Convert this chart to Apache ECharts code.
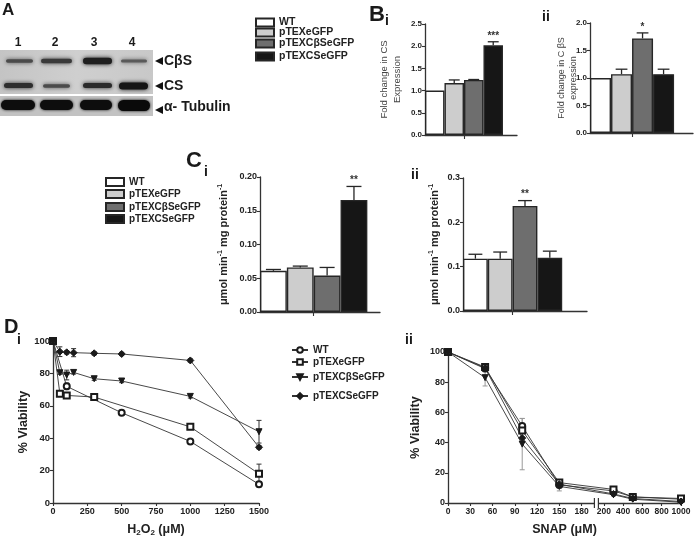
<!DOCTYPE html>
<html><head><meta charset="utf-8">
<script src="https://cdn.jsdelivr.net/npm/echarts@6/dist/echarts.min.js"></script>
<style>html,body{margin:0;padding:0;background:#fff}#c{width:696px;height:538px}</style>
</head><body><div id="c"></div>
<script>
// ---------- data ----------
const groups = ['WT', 'pTEXeGFP', 'pTEXCβSeGFP', 'pTEXCSeGFP'];
const barColors = ['#ffffff', '#cdcdcd', '#6e6e6e', '#161616'];
const barPos = [1, 2, 3, 4];

const biVals = [1.0, 1.17, 1.24, 2.02];
const biErr = [0, 0.07, 0.01, 0.08];
const biSig = ['', '', '', '***'];

const biiVals = [1.0, 1.07, 1.72, 1.07];
const biiErr = [0, 0.09, 0.10, 0.09];
const biiSig = ['', '', '*', ''];

const ciVals = [0.061, 0.066, 0.054, 0.166];
const ciErr = [0.002, 0.002, 0.012, 0.020];
const ciSig = ['', '', '', '**'];

const ciiVals = [0.118, 0.118, 0.237, 0.120];
const ciiErr = [0.010, 0.015, 0.012, 0.015];
const ciiSig = ['', '', '**', ''];

// D i : H2O2
const h2o2X = {
  WT: [0, 100, 500, 1000, 1500],
  eGFP: [0, 50, 100, 300, 1000, 1500],
  CbS: [0, 50, 100, 150, 300, 500, 1000, 1500],
  CS: [0, 50, 100, 150, 300, 500, 1000, 1500]
};
const h2o2Y = {
  WT: [100, 72, 55.7, 38, 11.5],
  eGFP: [100, 67.5, 66.4, 65.4, 47, 18],
  CbS: [100, 80.4, 79, 80.6, 76.7, 75.3, 65.8, 44],
  CS: [100, 93.4, 93, 92.8, 92.4, 92, 88, 34.4]
};
const h2o2E = {
  WT: [0, 2, 1, 1, 1.5],
  eGFP: [0, 1, 1, 1, 1.5, 6],
  CbS: [0, 1, 3, 1, 1, 1, 1, 7],
  CS: [1, 3, 1, 2.5, 1, 1, 1, 1]
};
// D ii : SNAP
const snapX = [0, 50, 100, 150, 300, 500, 1000];
const snapY = {
  WT: [100, 89, 51, 12, 8, 4, 2.5],
  eGFP: [100, 90, 48, 13.5, 9, 4, 3],
  CbS: [100, 83, 39, 11, 5.5, 2.5, 0.5],
  CS: [100, 89.5, 43, 12.5, 6, 3, 1]
};
const snapE = {
  WT: [0, 2, 5, 2, 1, 1, 0.5],
  eGFP: [0, 1, 4, 1, 1, 0.5, 0.5],
  CbS: [0, 5.5, 17, 3, 1, 0.5, 0.5],
  CS: [0, 1, 3, 1, 1, 0.5, 0.5]
};
const snapTicks = [0, 30, 60, 90, 120, 150, 180, 200, 400, 600, 800, 1000];
const seriesKeys = ['WT', 'eGFP', 'CbS', 'CS'];

// ---------- helpers ----------
const FF = 'Liberation Sans, Arial, sans-serif';
const AX = '#333';
// broken SNAP axis: compress the part after the break
const BRK_K = 0.13;
function snapDisp(x) { return x <= 190 ? x : 210 + (x - 200) * BRK_K; }
function snapInv(d) { return d <= 195 ? Math.round(d) : Math.round(200 + (d - 210) / BRK_K); }

const chart = echarts.init(document.getElementById('c'), null, {renderer: 'canvas'});

const grids = [
  {left: 425, top: 24, width: 92, height: 111},   // 0 B i
  {left: 590, top: 23, width: 103, height: 110},  // 1 B ii
  {left: 260, top: 177, width: 120, height: 135}, // 2 C i
  {left: 463, top: 178, width: 124, height: 133}, // 3 C ii
  {left: 53, top: 341, width: 206, height: 162},  // 4 D i
  {left: 448, top: 352, width: 233, height: 151}  // 5 D ii
].map(g => Object.assign({outerBoundsMode: 'none', containLabel: false}, g));

const barPanels = [
  {vals: biVals, err: biErr, sig: biSig, max: 2.5, interval: 0.5, dec: 1, bw: 19.5,
   name: 'Fold change in CS\nExpression', nameGap: 21, xmax: 5.22, fs: 9.5, lh: 13},
  {vals: biiVals, err: biiErr, sig: biiSig, max: 2.0, interval: 0.5, dec: 1, bw: 21,
   name: 'Fold change in C βS\nexpression', nameGap: 11, xmax: 5.4, fs: 9, lh: 11.5, noMove: true},
  {vals: ciVals, err: ciErr, sig: ciSig, max: 0.2, interval: 0.05, dec: 2, bw: 26.8,
   name: 'μmol min{sup|-1} mg protein{sup|-1}', nameGap: 30, xmax: 4.97, rich: true},
  {vals: ciiVals, err: ciiErr, sig: ciiSig, max: 0.3, interval: 0.1, dec: 1, bw: 24.8,
   name: 'μmol min{sup|-1} mg protein{sup|-1}', nameGap: 22, xmax: 5.5, rich: true}
];

const xAxes = [], yAxes = [], series = [];

function axisBase() {
  return {
    axisLine: {show: true, lineStyle: {color: AX, width: 1.3}},
    axisTick: {show: true, length: 3, lineStyle: {color: AX, width: 1.1}},
    splitLine: {show: false},
    axisLabel: {color: '#222', fontFamily: FF, fontWeight: 'bold', fontSize: 8, margin: 3}
  };
}

barPanels.forEach((p, gi) => {
  const xa = axisBase();
  Object.assign(xa, {type: 'value', gridIndex: gi, min: 0.5, max: p.xmax});
  xa.axisLabel = {show: false};
  xa.axisTick = {show: true, length: 4, customValues: [2.5], lineStyle: {color: AX, width: 1.1}};
  xAxes.push(xa);
  const ya = axisBase();
  Object.assign(ya, {type: 'value', gridIndex: gi, min: 0, max: p.max, interval: p.interval,
    name: p.name, nameLocation: 'middle', nameRotate: 90, nameGap: p.nameGap});
  if (p.noMove) ya.nameMoveOverlap = false;
  ya.axisLabel.formatter = v => v.toFixed(p.dec);
  if (p.rich) {
    ya.nameTextStyle = {fontFamily: FF, fontWeight: 'bold', fontSize: 11, color: '#222',
      rich: {sup: {fontFamily: FF, fontWeight: 'bold', fontSize: 7, color: '#222', verticalAlign: 'top', padding: [0, 0, 6, 0]}}};
    ya.axisLabel.fontSize = 9;
  } else {
    ya.nameTextStyle = {fontFamily: FF, fontSize: p.fs, color: '#444', lineHeight: p.lh};
  }
  yAxes.push(ya);
  groups.forEach((g, i) => {
    series.push({
      type: 'bar', name: g, xAxisIndex: gi, yAxisIndex: gi,
      barWidth: p.bw, barGap: '-100%',
      itemStyle: {color: barColors[i], borderColor: '#262626', borderWidth: 1.4},
      data: [[barPos[i], p.vals[i]]]
    });
  });
  // error bars (upper only) + significance stars
  const capHalf = p.bw * 0.28;
  series.push({
    type: 'custom', xAxisIndex: gi, yAxisIndex: gi, z: 5, silent: true,
    data: barPos.map((x, i) => [x, p.vals[i], p.err[i]]),
    renderItem(params, api) {
      const x = api.value(0), v = api.value(1), e = api.value(2);
      const p0 = api.coord([x, v]), p1 = api.coord([x, v + e]);
      const ch = [];
      if (e > 0) {
        ch.push({type: 'line', shape: {x1: p0[0], y1: p0[1], x2: p1[0], y2: p1[1]}, style: {stroke: '#262626', lineWidth: 1.3}});
        ch.push({type: 'line', shape: {x1: p1[0] - capHalf, y1: p1[1], x2: p1[0] + capHalf, y2: p1[1]}, style: {stroke: '#262626', lineWidth: 1.3}});
      }
      const s = p.sig[params.dataIndex];
      if (s) ch.push({type: 'text', x: p1[0], y: p1[1] - 1, style: {text: s, align: 'center', verticalAlign: 'bottom', font: 'bold 10px ' + FF, fill: '#333'}});
      return {type: 'group', children: ch};
    }
  });
});

// ---- D panels ----
const lineSym = {
  WT: {symbol: 'emptyCircle', size: 6},
  eGFP: {symbol: 'emptyRect', size: 6},
  CbS: {symbol: 'path://M0,0L10,0L5,9Z', size: 6},
  CS: {symbol: 'diamond', size: 7}
};

// D i axes
{
  const xa = axisBase();
  Object.assign(xa, {type: 'value', gridIndex: 4, min: 0, max: 1500, interval: 250,
    name: 'H{sub|2}O{sub|2} (μM)', nameLocation: 'middle', nameGap: 20,
    nameTextStyle: {fontFamily: FF, fontWeight: 'bold', fontSize: 12.5, color: '#222',
      rich: {sub: {fontFamily: FF, fontWeight: 'bold', fontSize: 8, color: '#222', verticalAlign: 'bottom', padding: [6, 0, 0, 0]}}}});
  xa.axisLabel.fontSize = 9; xa.axisLabel.margin = 4;
  xa.axisLabel.formatter = v => String(v);
  xAxes.push(xa);
  const ya = axisBase();
  Object.assign(ya, {type: 'value', gridIndex: 4, min: 0, max: 100, interval: 20,
    name: '% Viability', nameLocation: 'middle', nameRotate: 90, nameGap: 18,
    nameTextStyle: {fontFamily: FF, fontWeight: 'bold', fontSize: 12.5, color: '#222'}});
  ya.axisLabel.fontSize = 9.5;
  yAxes.push(ya);
}
// D ii axes
{
  const xa = axisBase();
  const cv = snapTicks.map(snapDisp);
  Object.assign(xa, {type: 'value', gridIndex: 5, min: 0, max: snapDisp(1000),
    name: 'SNAP (μM)', nameLocation: 'middle', nameGap: 20,
    nameTextStyle: {fontFamily: FF, fontWeight: 'bold', fontSize: 12.5, color: '#222'}});
  xa.axisLabel.fontSize = 8.5; xa.axisLabel.margin = 4;
  xa.axisLabel.customValues = cv;
  xa.axisLabel.formatter = v => String(snapInv(v));
  xa.axisTick.customValues = cv;
  xAxes.push(xa);
  const ya = axisBase();
  Object.assign(ya, {type: 'value', gridIndex: 5, min: 0, max: 100, interval: 20,
    name: '% Viability', nameLocation: 'middle', nameRotate: 90, nameGap: 26,
    nameTextStyle: {fontFamily: FF, fontWeight: 'bold', fontSize: 12.5, color: '#222'}});
  ya.axisLabel.fontSize = 9;
  yAxes.push(ya);
}

function errBars(gi, pts, color) {
  return {
    type: 'custom', xAxisIndex: gi, yAxisIndex: gi, z: 1, silent: true,
    data: pts,
    renderItem(params, api) {
      const x = api.value(0), v = api.value(1), e = api.value(2);
      if (!(e > 0)) return {type: 'group', children: []};
      const a = api.coord([x, v - e]), b = api.coord([x, v + e]);
      const c = 2.5;
      return {type: 'group', children: [
        {type: 'line', shape: {x1: a[0], y1: a[1], x2: b[0], y2: b[1]}, style: {stroke: color, lineWidth: 1}},
        {type: 'line', shape: {x1: a[0] - c, y1: a[1], x2: a[0] + c, y2: a[1]}, style: {stroke: color, lineWidth: 1}},
        {type: 'line', shape: {x1: b[0] - c, y1: b[1], x2: b[0] + c, y2: b[1]}, style: {stroke: color, lineWidth: 1}}
      ]};
    }
  };
}

seriesKeys.forEach((k, i) => {
  const ls = lineSym[k];
  series.push({
    type: 'line', name: 'D:' + groups[i], xAxisIndex: 4, yAxisIndex: 4, z: 3,
    symbol: ls.symbol, symbolSize: ls.size, showAllSymbol: true,
    lineStyle: {color: '#333', width: 0.9},
    itemStyle: {color: '#1a1a1a', borderColor: '#1a1a1a', borderWidth: 1},
    data: h2o2X[k].map((x, j) => [x, h2o2Y[k][j]])
  });
  series.push(errBars(4, h2o2X[k].map((x, j) => [x, h2o2Y[k][j], h2o2E[k][j]]), '#333'));
  series.push({
    type: 'line', name: 'E:' + groups[i], xAxisIndex: 5, yAxisIndex: 5, z: 3,
    symbol: ls.symbol, symbolSize: ls.size, showAllSymbol: true,
    lineStyle: {color: '#333', width: 0.9},
    itemStyle: {color: '#1a1a1a', borderColor: '#1a1a1a', borderWidth: 1},
    data: snapX.map((x, j) => [snapDisp(x), snapY[k][j]])
  });
  series.push(errBars(5, snapX.map((x, j) => [snapDisp(x), snapY[k][j], snapE[k][j]]), '#999'));
});

// ---- legends (one per row to match uneven spacing) ----
const legends = [];
const legB = [23, 33, 44, 57], legC = [183, 195, 208, 220], legD = [351, 363, 378, 397];
groups.forEach((g, i) => {
  legends.push({data: [g], left: 255, top: legB[i] - 6, itemWidth: 18, itemHeight: 8, icon: 'rect',
    selectedMode: false, padding: 0, textStyle: {fontFamily: FF, fontWeight: 'bold', fontSize: 10.5, color: '#222'}});
  legends.push({data: [g], left: 105, top: legC[i] - 6, itemWidth: 18, itemHeight: 8, icon: 'rect',
    selectedMode: false, padding: 0, textStyle: {fontFamily: FF, fontWeight: 'bold', fontSize: 10, color: '#222'}});
  legends.push({data: ['D:' + g], left: 291, top: legD[i] - 6, itemWidth: 16, itemHeight: 7,
    selectedMode: false, padding: 0, formatter: n => n.slice(2),
    textStyle: {fontFamily: FF, fontWeight: 'bold', fontSize: 10, color: '#222'}});
});

// ---- decorative blot (panel A) ----
const gfx = [];
function T(x, y, text, size, extra) {
  gfx.push(Object.assign({type: 'text', x, y, style: Object.assign({text, font: 'bold ' + size + 'px ' + FF, fill: '#1a1a1a', verticalAlign: 'middle'}, extra || {})}));
}
gfx.push({type: 'rect', shape: {x: 0, y: 50, width: 153, height: 44},
  style: {fill: {type: 'linear', x: 0, y: 0, x2: 1, y2: 0, colorStops: [
    {offset: 0, color: '#c4c4c4'}, {offset: 0.5, color: '#cfcfcf'}, {offset: 1, color: '#c8c8c8'}]}}});
gfx.push({type: 'rect', shape: {x: 0, y: 96, width: 153, height: 20}, style: {fill: '#c2c2c2'}});
function band(x, y, w, h, col, blur) {
  gfx.push({type: 'rect', shape: {x, y: y - h / 2, width: w, height: h, r: h / 2},
    style: {fill: col, shadowBlur: blur, shadowColor: col}});
}
band(6, 61, 27, 3.5, '#4a4a4a', 4); band(41, 61, 31, 4.5, '#3a3a3a', 4);
band(83, 61, 29, 6.5, '#1e1e1e', 4); band(121, 61, 26, 3, '#5a5a5a', 4);
band(4, 85.5, 29, 5, '#2e2e2e', 4); band(43, 86, 27, 3.5, '#4a4a4a', 4);
band(83, 85.5, 29, 5, '#2a2a2a', 4); band(119, 86, 29, 7, '#151515', 4);
band(1, 105, 34, 10, '#0d0d0d', 3); band(40, 105, 33, 10, '#0d0d0d', 3);
band(80, 105, 32, 10, '#0d0d0d', 3); band(118, 105.5, 32, 11, '#0a0a0a', 3);
['1', '2', '3', '4'].forEach((s, i) => T([18, 55, 94, 132][i], 43, s, 12, {align: 'center'}));
function arrow(x, y) { gfx.push({type: 'polygon', shape: {points: [[x, y], [x + 8, y - 4], [x + 8, y + 4]]}, style: {fill: '#111'}}); }
arrow(155, 61); T(164, 61, 'CβS', 14);
arrow(155, 86); T(164, 86, 'CS', 14);
arrow(155, 110); T(164, 107, 'α- Tubulin', 14);
// panel letters
T(2, 10, 'A', 17);
T(369, 15, 'B', 22); T(385, 21, 'i', 14);
T(542, 17, 'ii', 14);
T(186, 161, 'C', 22); T(204, 172, 'i', 14);
T(411, 175, 'ii', 14);
T(4, 327, 'D', 20); T(17, 340, 'i', 14);
T(405, 340, 'ii', 14);

chart.setOption({
  animation: false,
  backgroundColor: '#fff',
  grid: grids,
  xAxis: xAxes,
  yAxis: yAxes,
  legend: legends,
  series,
  graphic: gfx
});

// axis-break marks on SNAP axis
const bp = chart.convertToPixel({xAxisIndex: 5, yAxisIndex: 5}, [200, 0]);
chart.setOption({graphic: gfx.concat([
  {type: 'rect', shape: {x: bp[0] - 2, y: bp[1] - 2, width: 4, height: 4}, style: {fill: '#fff'}, z: 10},
  {type: 'line', shape: {x1: bp[0] - 2, y1: bp[1] - 5, x2: bp[0] - 2, y2: bp[1] + 5}, style: {stroke: '#333', lineWidth: 1.2}, z: 11},
  {type: 'line', shape: {x1: bp[0] + 2, y1: bp[1] - 5, x2: bp[0] + 2, y2: bp[1] + 5}, style: {stroke: '#333', lineWidth: 1.2}, z: 11}
])});
</script></body></html>
